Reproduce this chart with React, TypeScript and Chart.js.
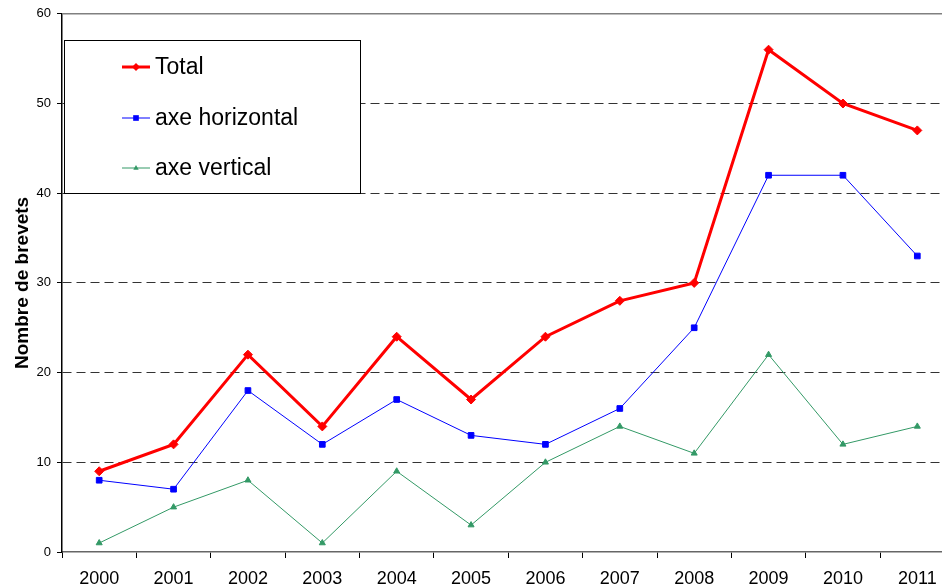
import React, { useEffect, useRef } from "react";
import { Chart, registerables } from "chart.js";

Chart.register(...registerables);

const years = ["2000", "2001", "2002", "2003", "2004", "2005", "2006", "2007", "2008", "2009", "2010", "2011"];
const totalValues = [9, 12, 22, 14, 24, 17, 24, 28, 30, 56, 50, 47];
const horizontalValues = [8, 7, 18, 12, 17, 13, 12, 16, 25, 42, 42, 33];
const verticalValues = [1, 5, 8, 1, 9, 3, 10, 14, 11, 22, 12, 14];
const seriesLabels = ["Total", "axe horizontal", "axe vertical"];
const yTitle = "Nombre de brevets";

const FONT = "'Liberation Sans', Arial, sans-serif";

function drawMarker(ctx: CanvasRenderingContext2D, style: string, x: number, y: number, r: number, color: string) {
  ctx.save();
  ctx.fillStyle = color;
  ctx.beginPath();
  if (style === "rectRot") {
    ctx.moveTo(x, y - r);
    ctx.lineTo(x + r, y);
    ctx.lineTo(x, y + r);
    ctx.lineTo(x - r, y);
    ctx.closePath();
  } else if (style === "rect") {
    const s = r * Math.SQRT1_2;
    ctx.rect(x - s, y - s, 2 * s, 2 * s);
  } else {
    ctx.moveTo(x, y - r);
    ctx.lineTo(x + r * 0.9, y + r * 0.6);
    ctx.lineTo(x - r * 0.9, y + r * 0.6);
    ctx.closePath();
  }
  ctx.fill();
  ctx.restore();
}

const overlayPlugin = {
  id: "overlay",
  beforeDatasetsDraw(chart: any) {
    const { ctx, chartArea, scales } = chart;
    const y = scales.y.getPixelForValue(60);
    ctx.save();
    ctx.strokeStyle = "#808080";
    ctx.lineWidth = 1.5;
    ctx.beginPath();
    ctx.moveTo(chartArea.left, y);
    ctx.lineTo(chartArea.right, y);
    ctx.stroke();
    ctx.restore();
  },
  afterDraw(chart: any) {
    const { ctx } = chart;
    ctx.save();
    const bx = 64.5, by = 40.5, bw = 296, bh = 153;
    ctx.fillStyle = "#ffffff";
    ctx.fillRect(bx, by, bw, bh);
    ctx.strokeStyle = "#000000";
    ctx.lineWidth = 1;
    ctx.strokeRect(bx, by, bw, bh);
    const rows = [67, 118, 168];
    chart.data.datasets.forEach((ds: any, i: number) => {
      const yy = rows[i];
      ctx.strokeStyle = ds.borderColor;
      ctx.lineWidth = ds.borderWidth;
      ctx.beginPath();
      ctx.moveTo(122, yy);
      ctx.lineTo(150, yy);
      ctx.stroke();
      drawMarker(ctx, ds.pointStyle, 136, yy, i === 0 ? 4 : i === 1 ? 4 : 3, ds.borderColor);
      ctx.fillStyle = "#000000";
      ctx.font = `23px ${FONT}`;
      ctx.textBaseline = "middle";
      ctx.textAlign = "left";
      ctx.fillText(ds.label, 155, yy + 1);
    });
    ctx.restore();
  },
};

export default function App() {
  const ref = useRef<HTMLCanvasElement | null>(null);
  useEffect(() => {
    if (!ref.current) return;
    const chart = new Chart(ref.current, {
      type: "line",
      data: {
        labels: years,
        datasets: [
          {
            label: seriesLabels[0],
            data: totalValues,
            borderColor: "#ff0000",
            backgroundColor: "#ff0000",
            borderWidth: 3,
            pointStyle: "rectRot",
            pointRadius: 4.5,
            pointBorderWidth: 1,
            tension: 0,
          },
          {
            label: seriesLabels[1],
            data: horizontalValues,
            borderColor: "#0000ff",
            backgroundColor: "#0000ff",
            borderWidth: 1,
            pointStyle: "rect",
            pointRadius: 4,
            pointBorderWidth: 1,
            tension: 0,
          },
          {
            label: seriesLabels[2],
            data: verticalValues,
            borderColor: "#339966",
            backgroundColor: "#339966",
            borderWidth: 1,
            pointStyle: "triangle",
            pointRadius: 3.5,
            pointBorderWidth: 1,
            tension: 0,
          },
        ],
      },
      options: {
        animation: false,
        responsive: false,
        devicePixelRatio: 1,
        layout: { padding: { top: 13, right: 5, left: 0, bottom: 0 } },
        plugins: {
          legend: { display: false },
          tooltip: { enabled: false },
        },
        scales: {
          x: {
            offset: true,
            grid: {
              offset: true,
              drawOnChartArea: false,
              drawTicks: true,
              tickLength: 6,
              tickColor: "#000000",
              tickWidth: 1,
            },
            border: { color: "#666666", width: 1.5 },
            ticks: {
              color: "#000000",
              font: { family: FONT, size: 18 },
              padding: 10,
              maxRotation: 0,
              autoSkip: false,
            },
            afterFit: (s: any) => {
              s.height = 35;
            },
          },
          y: {
            min: 0,
            max: 60,
            ticks: {
              stepSize: 10,
              color: "#000000",
              font: { family: FONT, size: 13 },
              padding: 6,
            },
            grid: {
              color: (c: any) => (c.tick && (c.tick.value === 0 || c.tick.value === 60) ? "rgba(0,0,0,0)" : "#333333"),
              lineWidth: 1,
              tickLength: 5,
              tickColor: "#000000",
              tickBorderDash: [],
            },
            border: { color: "#000000", width: 1.5, dash: [9, 5] },
            title: {
              display: true,
              text: yTitle,
              color: "#000000",
              font: { family: FONT, size: 19, weight: "bold" },
              padding: { top: 11, bottom: 0 },
            },
            afterFit: (s: any) => {
              s.width = 62;
            },
          },
        },
      },
      plugins: [overlayPlugin],
    });
    return () => chart.destroy();
  }, []);
  return (
    <div style={{ position: "absolute", left: 0, top: 0, width: 942, height: 587, overflow: "hidden", background: "#fff" }}>
      <canvas ref={ref} width={960} height={587} style={{ width: 960, height: 587, display: "block" }} />
    </div>
  );
}
